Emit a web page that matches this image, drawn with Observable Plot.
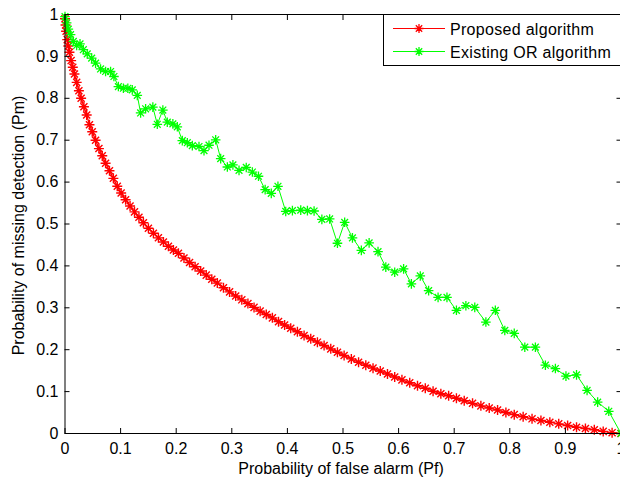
<!DOCTYPE html>
<html><head><meta charset="utf-8">
<script src="https://cdn.jsdelivr.net/npm/d3@7"></script>
<script src="https://cdn.jsdelivr.net/npm/@observablehq/plot@0.6"></script>
<style>body{margin:0;background:#fff} svg{display:block;overflow:hidden}</style>
</head><body><div id="chart"></div>
<script>
// [Pf, Pm] pairs
const proposed = [[0,0.99],[0.001,0.975],[0.002,0.96],[0.004,0.94],[0.006,0.925],[0.008,0.91],[0.011,0.89],[0.014,0.874],[0.017,0.858],[0.021,0.838],[0.025,0.818],[0.029,0.80],[0.034,0.78],[0.039,0.76],[0.044,0.737],[0.049,0.72],[0.055,0.70],[0.061,0.68],[0.067,0.663],[0.073,0.645],[0.080,0.627],[0.087,0.609],[0.094,0.59],[0.101,0.574],[0.109,0.558],[0.117,0.543],[0.125,0.529],[0.133,0.516],[0.141,0.503],[0.150,0.490],[0.159,0.478],[0.168,0.467],[0.177,0.457],[0.186,0.447],[0.195,0.438],[0.204,0.430],[0.214,0.419],[0.224,0.408],[0.234,0.398],[0.244,0.388],[0.254,0.378],[0.264,0.368],[0.274,0.359],[0.285,0.348],[0.296,0.338],[0.307,0.328],[0.318,0.319],[0.329,0.310],[0.340,0.301],[0.351,0.292],[0.362,0.284],[0.373,0.276],[0.384,0.267],[0.395,0.259],[0.406,0.251],[0.418,0.243],[0.430,0.234],[0.442,0.226],[0.454,0.218],[0.466,0.210],[0.478,0.202],[0.490,0.194],[0.502,0.186],[0.515,0.178],[0.528,0.170],[0.541,0.163],[0.554,0.156],[0.567,0.149],[0.580,0.142],[0.593,0.135],[0.606,0.128],[0.620,0.121],[0.634,0.114],[0.648,0.108],[0.662,0.101],[0.676,0.095],[0.690,0.090],[0.704,0.084],[0.718,0.078],[0.733,0.072],[0.748,0.066],[0.763,0.061],[0.778,0.056],[0.793,0.050],[0.808,0.045],[0.824,0.040],[0.840,0.035],[0.856,0.031],[0.872,0.027],[0.888,0.023],[0.904,0.019],[0.920,0.015],[0.936,0.012],[0.952,0.009],[0.968,0.005],[0.984,0.002],[1.0,0.0]];
const existing = [[0,0.995],[0.003,0.98],[0.006,0.965],[0.010,0.952],[0.015,0.936],[0.021,0.926],[0.027,0.930],[0.033,0.916],[0.040,0.906],[0.048,0.896],[0.055,0.884],[0.064,0.870],[0.073,0.864],[0.082,0.864],[0.088,0.852],[0.096,0.828],[0.105,0.824],[0.113,0.824],[0.121,0.820],[0.130,0.807],[0.136,0.765],[0.145,0.775],[0.158,0.779],[0.166,0.738],[0.176,0.772],[0.184,0.743],[0.194,0.739],[0.202,0.732],[0.211,0.699],[0.220,0.694],[0.229,0.687],[0.241,0.685],[0.250,0.675],[0.259,0.688],[0.271,0.701],[0.280,0.656],[0.292,0.636],[0.302,0.641],[0.313,0.628],[0.326,0.635],[0.337,0.624],[0.348,0.614],[0.360,0.582],[0.371,0.573],[0.383,0.590],[0.397,0.530],[0.409,0.532],[0.424,0.533],[0.436,0.532],[0.448,0.531],[0.462,0.511],[0.476,0.512],[0.490,0.454],[0.503,0.504],[0.517,0.467],[0.533,0.437],[0.547,0.455],[0.563,0.434],[0.577,0.397],[0.593,0.385],[0.609,0.393],[0.623,0.357],[0.639,0.376],[0.654,0.341],[0.671,0.325],[0.687,0.325],[0.704,0.294],[0.721,0.305],[0.737,0.301],[0.757,0.266],[0.774,0.294],[0.791,0.246],[0.808,0.239],[0.827,0.206],[0.846,0.206],[0.864,0.163],[0.882,0.155],[0.901,0.137],[0.920,0.140],[0.939,0.103],[0.958,0.075],[0.978,0.053],[1.0,0.0]];
const tickValues = [0,0.1,0.2,0.3,0.4,0.5,0.6,0.7,0.8,0.9,1];
const tickLabels = ["0","0.1","0.2","0.3","0.4","0.5","0.6","0.7","0.8","0.9","1"];
const seriesNames = ["Proposed algorithm","Existing OR algorithm"];
const seriesColors = ["#ff0000","#00ff00"];
const xLabel = "Probability of false alarm (Pf)";
const yLabel = "Probability of missing detection (Pm)";

const asterisk = {draw(ctx, size){
  const r = Math.sqrt(size/Math.PI), d = r*Math.SQRT1_2;
  ctx.moveTo(-r,0); ctx.lineTo(r,0);
  ctx.moveTo(0,-r); ctx.lineTo(0,r);
  ctx.moveTo(-d,-d); ctx.lineTo(d,d);
  ctx.moveTo(-d,d); ctx.lineTo(d,-d);
}};

const rows = (arr) => arr.map(([x,y]) => ({x, y}));
const fmt = d => tickLabels[tickValues.indexOf(d)];
const noText = () => "";
const font = {fontSize: 16};

const chart = Plot.plot({
  width: 620, height: 478,
  marginLeft: 64.5, marginRight: -0.5, marginTop: 14, marginBottom: 45,
  style: {fontFamily: "'Liberation Sans', Arial, sans-serif", fontSize: "16px", background: "#fff", color: "#000"},
  x: {domain: [0,1], label: null},
  y: {domain: [0,1], label: null},
  marks: [
    Plot.line(rows(proposed), {x:"x", y:"y", stroke: seriesColors[0], strokeWidth: 1.3}),
    Plot.dot(rows(proposed), {x:"x", y:"y", symbol: asterisk, r: 5, stroke: seriesColors[0], strokeWidth: 1.4}),
    Plot.line(rows(existing), {x:"x", y:"y", stroke: seriesColors[1], strokeWidth: 1}),
    Plot.dot(rows(existing), {x:"x", y:"y", symbol: asterisk, r: 4.8, stroke: seriesColors[1], strokeWidth: 1.3}),
    Plot.frame({stroke: "#000"}),
    Plot.axisX(tickValues, {anchor: "bottom", tickSize: 0, tickPadding: 9, tickFormat: fmt, label: null, ...font}),
    Plot.axisY(tickValues, {anchor: "left", tickSize: 0, tickPadding: 6.5, tickFormat: fmt, label: null, ...font}),
    Plot.axisX(tickValues, {anchor: "bottom", tickSize: -5, tickFormat: noText, label: null}),
    Plot.axisX(tickValues, {anchor: "top", tickSize: -5, tickFormat: noText, label: null}),
    Plot.axisY(tickValues, {anchor: "left", tickSize: -5, tickFormat: noText, label: null}),
    Plot.axisY(tickValues, {anchor: "right", tickSize: -5, tickFormat: noText, label: null}),
    Plot.text([xLabel], {text: d => d, frameAnchor: "bottom", textAnchor: "middle", lineAnchor: "middle", dx: -2, dy: 35, ...font}),
    Plot.text([yLabel], {text: d => d, frameAnchor: "left", textAnchor: "middle", lineAnchor: "middle", dx: -46.3, dy: 1.5, rotate: -90, ...font})
  ]
});
document.getElementById("chart").appendChild(chart);

// legend box (MATLAB style, top-right inside axes)
const svg = d3.select(chart);
const lg = svg.append("g");
lg.append("rect").attr("x", 383.5).attr("y", 14.5).attr("width", 260).attr("height", 51)
  .attr("fill", "#fff").attr("stroke", "#000");
const rowY = [28.5, 51.5];
seriesNames.forEach((name, i) => {
  const y = rowY[i];
  lg.append("line").attr("x1", 393).attr("x2", 445).attr("y1", y).attr("y2", y)
    .attr("stroke", seriesColors[i]).attr("stroke-width", 1.2);
  lg.append("path").attr("transform", `translate(419,${y})`)
    .attr("d", d3.symbol(asterisk, Math.PI*4.5*4.5)())
    .attr("fill", "none").attr("stroke", seriesColors[i]).attr("stroke-width", 1.3);
  lg.append("text").attr("x", 450).attr("y", y + 6).attr("text-anchor", "start")
    .attr("letter-spacing", "0.3px")
    .attr("font-size", 16).attr("fill", "#000").text(name);
});
</script>
</body></html>
